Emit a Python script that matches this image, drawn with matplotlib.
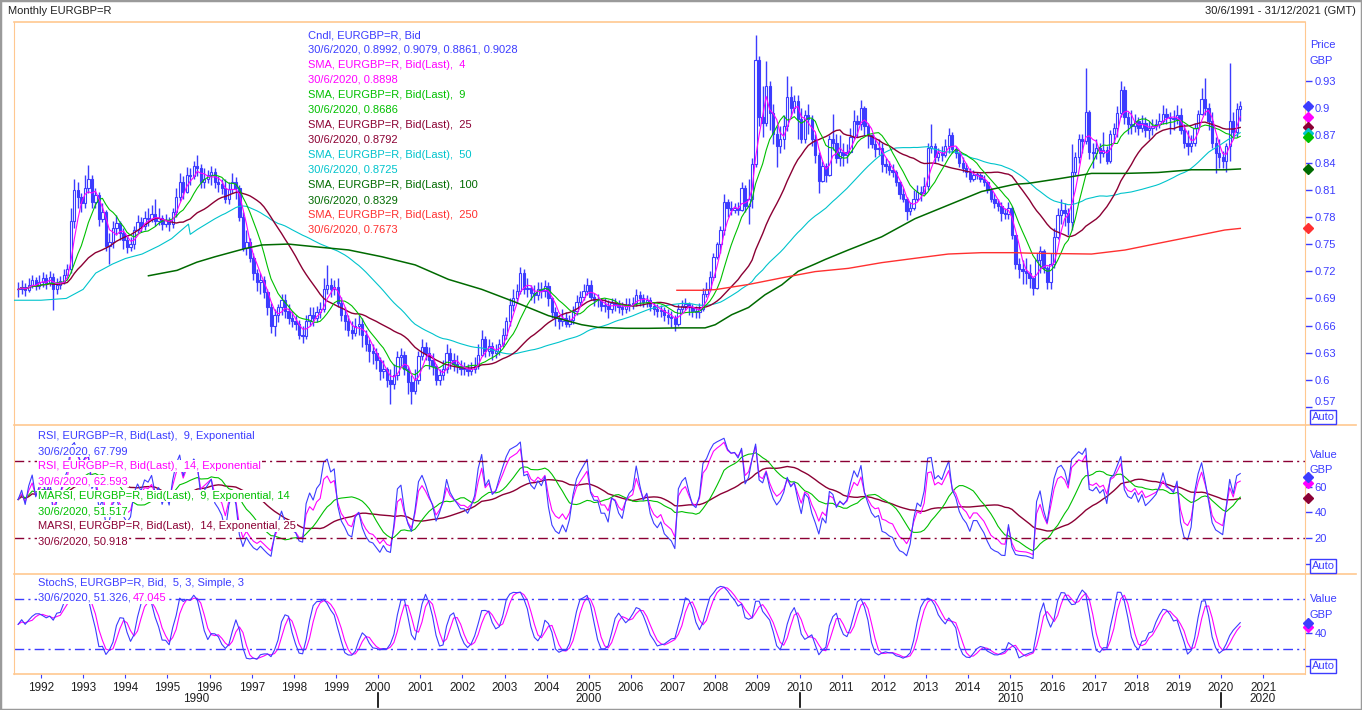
import numpy as np
import pandas as pd
import matplotlib
matplotlib.use("Agg")
import matplotlib.pyplot as plt
import matplotlib.transforms as mtrans
from matplotlib.lines import Line2D
from matplotlib.patches import Rectangle

plt.rcParams['font.family'] = ['Liberation Sans', 'DejaVu Sans']

# monthly EURGBP bid candles, Jun 1991 .. Jun 2020 (one row per year)
close = [
    .700, .703, .699, .705, .710, .704, .708,
    .712, .707, .714, .700, .705, .709, .716, .722, .775, .810, .802, .795,
    .812, .822, .796, .804, .778, .785, .748, .752, .768, .773, .762, .754,
    .747, .750, .766, .774, .770, .779, .778, .783, .776, .779, .772, .777,
    .772, .785, .802, .818, .808, .826, .825, .836, .834, .818, .822, .826,
    .830, .819, .816, .812, .800, .811, .818, .812, .780, .746, .752, .735,
    .718, .708, .710, .697, .680, .660, .672, .680, .688, .676, .668, .665,
    .662, .650, .648, .665, .672, .668, .675, .678, .700, .705, .700, .703,
    .685, .672, .665, .655, .652, .660, .662, .650, .640, .632, .630, .622,
    .610, .612, .600, .596, .605, .625, .628, .612, .598, .588, .600, .627,
    .636, .630, .622, .615, .600, .605, .612, .630, .622, .618, .615, .612,
    .612, .610, .612, .615, .628, .645, .632, .637, .630, .632, .640, .650,
    .665, .683, .690, .698, .718, .700, .702, .696, .694, .700, .698, .704,
    .690, .675, .668, .665, .668, .662, .666, .676, .686, .692, .698, .705,
    .692, .688, .688, .682, .682, .678, .685, .684, .680, .678, .682, .684,
    .685, .694, .690, .686, .688, .682, .678, .676, .677, .672, .670, .668,
    .662, .678, .682, .684, .680, .676, .675, .678, .695, .700, .714, .736,
    .750, .766, .796, .790, .788, .790, .788, .812, .792, .800, .838, .953,
    .890, .884, .925, .895, .872, .858, .866, .880, .912, .900, .908, .888,
    .866, .893, .888, .866, .848, .820, .836, .826, .866, .862, .845, .852,
    .848, .852, .868, .886, .882, .900, .880, .870, .860, .855, .856, .838,
    .836, .832, .830, .818, .805, .800, .786, .790, .800, .808, .806, .814,
    .856, .858, .846, .850, .848, .858, .870, .855, .850, .840, .834, .830,
    .822, .826, .826, .822, .818, .810, .800, .795, .792, .784, .783, .790,
    .760, .728, .722, .720, .718, .712, .702, .732, .742, .724, .708, .728,
    .758, .782, .788, .784, .774, .830, .846, .866, .864, .896, .852, .850,
    .856, .850, .854, .842, .872, .878, .895, .920, .890, .882, .880, .886,
    .878, .884, .876, .878, .880, .882, .886, .894, .890, .889, .888, .892,
    .876, .862, .858, .862, .878, .894, .910, .900, .886, .862, .850, .846,
    .842, .858, .886, .874, .899, .9028,
]
high = [
    .708, .710, .707, .712, .716, .714, .716,
    .719, .717, .720, .718, .712, .715, .722, .728, .790, .822, .818, .806,
    .826, .837, .826, .812, .808, .795, .788, .762, .775, .782, .776, .768,
    .760, .758, .770, .782, .780, .786, .790, .793, .800, .790, .782, .783,
    .780, .790, .812, .828, .825, .835, .834, .842, .848, .838, .834, .832,
    .836, .834, .825, .822, .822, .818, .828, .824, .815, .785, .765, .757,
    .740, .722, .718, .715, .700, .685, .678, .684, .695, .695, .684, .676,
    .672, .666, .660, .672, .680, .680, .682, .686, .712, .727, .712, .710,
    .712, .692, .680, .672, .665, .668, .672, .668, .655, .645, .640, .635,
    .625, .622, .614, .612, .618, .632, .635, .632, .615, .605, .612, .632,
    .645, .642, .636, .630, .618, .612, .622, .640, .635, .630, .628, .622,
    .620, .618, .620, .625, .640, .655, .648, .645, .642, .640, .645, .657,
    .670, .690, .700, .706, .725, .722, .712, .705, .705, .708, .708, .710,
    .708, .692, .680, .672, .678, .675, .672, .682, .694, .698, .706, .712,
    .710, .696, .695, .690, .690, .688, .690, .690, .688, .686, .690, .690,
    .692, .700, .698, .695, .694, .692, .686, .684, .683, .680, .678, .676,
    .672, .684, .688, .690, .686, .684, .682, .685, .702, .708, .720, .740,
    .752, .770, .805, .800, .798, .795, .796, .818, .815, .822, .845, .981,
    .958, .925, .952, .930, .905, .880, .880, .892, .935, .925, .915, .915,
    .900, .898, .905, .892, .872, .852, .842, .840, .870, .894, .872, .870,
    .862, .860, .878, .898, .892, .909, .902, .884, .872, .868, .866, .862,
    .845, .842, .838, .832, .820, .812, .802, .796, .810, .815, .814, .824,
    .862, .883, .862, .856, .858, .866, .878, .874, .858, .852, .846, .840,
    .834, .832, .830, .828, .826, .820, .812, .806, .800, .796, .790, .796,
    .792, .760, .735, .732, .735, .728, .714, .740, .748, .745, .726, .740,
    .768, .790, .800, .795, .790, .860, .852, .872, .872, .944, .898, .862,
    .866, .862, .874, .858, .876, .884, .902, .930, .924, .896, .898, .894,
    .890, .892, .890, .886, .888, .888, .895, .904, .900, .896, .898, .904,
    .900, .882, .876, .870, .884, .898, .922, .933, .906, .896, .868, .866,
    .853, .862, .950, .896, .906, .9079,
]
low = [
    .692, .695, .693, .697, .702, .699, .700,
    .703, .700, .704, .677, .695, .700, .706, .712, .718, .768, .790, .785,
    .790, .806, .790, .790, .770, .774, .742, .728, .746, .760, .755, .745,
    .740, .742, .745, .762, .763, .766, .770, .774, .770, .771, .765, .769,
    .764, .768, .780, .798, .800, .806, .815, .822, .825, .812, .812, .817,
    .815, .812, .808, .805, .795, .794, .806, .800, .776, .742, .738, .730,
    .710, .698, .695, .690, .672, .652, .648, .664, .672, .668, .662, .658,
    .655, .645, .641, .645, .660, .660, .664, .668, .675, .695, .692, .694,
    .680, .665, .655, .648, .645, .648, .650, .636, .632, .620, .618, .612,
    .600, .602, .592, .574, .590, .600, .615, .605, .585, .573, .585, .596,
    .622, .622, .612, .606, .595, .594, .600, .608, .612, .610, .608, .605,
    .605, .604, .606, .608, .612, .626, .625, .626, .622, .624, .628, .636,
    .645, .660, .676, .685, .695, .695, .692, .688, .685, .688, .690, .692,
    .682, .668, .660, .656, .660, .658, .658, .662, .672, .682, .688, .694,
    .688, .682, .680, .676, .675, .668, .674, .676, .674, .672, .674, .676,
    .678, .682, .682, .680, .680, .676, .672, .670, .670, .665, .662, .658,
    .654, .660, .674, .677, .672, .670, .668, .668, .676, .692, .698, .710,
    .733, .740, .760, .780, .782, .784, .782, .786, .785, .772, .790, .835,
    .880, .868, .880, .876, .860, .835, .850, .855, .875, .890, .895, .866,
    .862, .862, .872, .858, .840, .806, .818, .818, .825, .854, .840, .836,
    .836, .840, .850, .866, .868, .876, .870, .856, .856, .846, .848, .830,
    .828, .826, .824, .814, .800, .796, .777, .782, .788, .798, .798, .805,
    .810, .850, .840, .842, .842, .846, .850, .850, .845, .835, .830, .824,
    .818, .820, .822, .818, .814, .806, .796, .790, .786, .776, .778, .778,
    .756, .722, .712, .706, .706, .702, .694, .700, .718, .718, .700, .700,
    .724, .756, .772, .770, .760, .766, .826, .840, .850, .860, .844, .834,
    .844, .840, .846, .838, .840, .862, .868, .890, .882, .872, .872, .874,
    .870, .874, .868, .866, .870, .876, .878, .882, .882, .872, .876, .882,
    .872, .856, .848, .852, .858, .876, .892, .892, .876, .856, .828, .834,
    .834, .829, .842, .866, .868, .8861,
]

sma50_early_t = [1991.36, 1992.00, 1992.60, 1993.00, 1993.30, 1993.70, 1994.00, 1994.40,
                 1994.80, 1995.10, 1995.50]
sma50_early_v = [0.688, 0.688, 0.690, 0.700, 0.718, 0.728, 0.734, 0.739,
                 0.748, 0.756, 0.772]
sma100_t = [1994.55, 1995.23, 1995.70, 1996.13, 1996.84, 1997.24, 1997.87, 1998.51, 1999.30,
            2000.09, 2000.88, 2001.67, 2002.46, 2003.25, 2004.04, 2004.83, 2005.23, 2005.86,
            2006.41, 2007.20, 2007.76, 2008.00, 2008.39, 2008.79, 2009.18, 2009.58, 2009.97,
            2010.37, 2010.61, 2011.16, 2011.95, 2012.74, 2013.53, 2014.32, 2015.11, 2015.43,
            2016.14, 2016.93, 2017.72, 2018.51, 2019.30, 2020.09, 2020.46]
sma100_v = [0.715, 0.721, 0.730, 0.736, 0.745, 0.749, 0.750, 0.747, 0.7435,
            0.736, 0.727, 0.711, 0.700, 0.686, 0.671, 0.661, 0.658, 0.657,
            0.657, 0.6575, 0.6575, 0.661, 0.672, 0.680, 0.694, 0.705, 0.720,
            0.728, 0.733, 0.7435, 0.758, 0.778, 0.793, 0.808, 0.816, 0.817,
            0.822, 0.828, 0.828, 0.829, 0.832, 0.832, 0.8329]
sma250_t = [2007.09, 2007.70, 2008.00, 2008.79, 2009.58, 2010.37, 2011.16, 2011.95, 2012.74,
            2013.53, 2014.32, 2015.11, 2015.43, 2016.14, 2016.93, 2017.72, 2018.51, 2019.30,
            2020.09, 2020.46]
sma250_v = [0.699, 0.699, 0.6997, 0.7054, 0.7127, 0.7196, 0.7232, 0.7295, 0.7343,
            0.739, 0.7405, 0.7405, 0.740, 0.7395, 0.739, 0.7434, 0.7508, 0.7581,
            0.7655, 0.7673]

price_ticks = [0.57, 0.6, 0.63, 0.66, 0.69, 0.72, 0.75, 0.78, 0.81, 0.84, 0.87, 0.9, 0.93]
years = list(range(1992, 2022))
decades = [2000, 2010, 2020]
decade_labels = ['1990', '2000', '2010', '2020']

price_legend = [
    ('Cndl, EURGBP=R, Bid', 'blue'),
    ('30/6/2020, 0.8992, 0.9079, 0.8861, 0.9028', 'blue'),
    ('SMA, EURGBP=R, Bid(Last),  4', 'magenta'),
    ('30/6/2020, 0.8898', 'magenta'),
    ('SMA, EURGBP=R, Bid(Last),  9', 'green'),
    ('30/6/2020, 0.8686', 'green'),
    ('SMA, EURGBP=R, Bid(Last),  25', 'maroon'),
    ('30/6/2020, 0.8792', 'maroon'),
    ('SMA, EURGBP=R, Bid(Last),  50', 'cyan'),
    ('30/6/2020, 0.8725', 'cyan'),
    ('SMA, EURGBP=R, Bid(Last),  100', 'dkgreen'),
    ('30/6/2020, 0.8329', 'dkgreen'),
    ('SMA, EURGBP=R, Bid(Last),  250', 'red'),
    ('30/6/2020, 0.7673', 'red'),
]
rsi_legend = [
    ('RSI, EURGBP=R, Bid(Last),  9, Exponential', 'blue'),
    ('30/6/2020, 67.799', 'blue'),
    ('RSI, EURGBP=R, Bid(Last),  14, Exponential', 'magenta'),
    ('30/6/2020, 62.593', 'magenta'),
    ('MARSI, EURGBP=R, Bid(Last),  9, Exponential, 14', 'green'),
    ('30/6/2020, 51.517', 'green'),
    ('MARSI, EURGBP=R, Bid(Last),  14, Exponential, 25', 'maroon'),
    ('30/6/2020, 50.918', 'maroon'),
]

COL = {
    'blue': '#3c3cff', 'magenta': '#ff00ff', 'green': '#00c000', 'maroon': '#8b0034',
    'cyan': '#00c4cc', 'dkgreen': '#006a00', 'red': '#ff3030',
}
ORANGE = '#ffc890'
W, H = 1362, 710
L, R = 14, 1305
FS = 8


def rsi(c, n):
    # exponential RSI, seeded neutral because the real history starts before the window
    d = np.diff(c, prepend=c[0])
    a = 2.0 / (n + 1)
    up = dn = np.mean(np.abs(d[1:13])) / 2
    out = []
    for x in d:
        up += a * (max(x, 0) - up)
        dn += a * (max(-x, 0) - dn)
        out.append(100 * up / (up + dn))
    return pd.Series(out)


def panel(top, bottom):
    ax = fig.add_axes([L / W, 1 - bottom / H, (R - L) / W, (bottom - top) / H])
    for s in ax.spines.values():
        s.set_visible(False)
    ax.spines['left'].set_visible(True)
    ax.spines['right'].set_visible(True)
    ax.spines['left'].set_color(ORANGE)
    ax.spines['right'].set_color(ORANGE)
    ax.set_xlim(1991.36, 2021.995)
    ax.tick_params(axis='x', bottom=False, labelbottom=False)
    ax.yaxis.tick_right()
    ax.tick_params(axis='y', length=5, width=1, color=COL['blue'], labelcolor=COL['blue'],
                   labelsize=FS, pad=2, direction='out')
    return ax


def side_mark(ax, val, col):
    tr = mtrans.blended_transform_factory(ax.transAxes, ax.transData)
    ax.plot([1.0025], [val], marker='D', ms=5, color=col, transform=tr, clip_on=False, zorder=10)


def ftext(x, y, s, col, **kw):
    return fig.text(x / W, 1 - y / H, s, color=col, fontsize=FS, va='center', **kw)


fig = plt.figure(figsize=(W / 100, H / 100), dpi=100)
fig.patch.set_facecolor('white')

c = pd.Series(close)
cv = c.values
hi = np.array(high)
lo = np.array(low)
o = np.r_[close[0], close[:-1]]
months = pd.date_range('1991-06-01', periods=len(close), freq='MS')
t = np.asarray(months.year + (months.month - 0.5) / 12)

# ---- price panel
ax = panel(22, 425)
ax.set_ylim(0.5503, 0.9951)
ax.vlines(t, lo, hi, color=COL['blue'], lw=1, zorder=2)
body_lo = np.minimum(o, cv)
body_h = np.maximum(np.abs(cv - o), 0.0008)
ax.bar(t, body_h, bottom=body_lo, width=0.055,
       color=np.where(cv >= o, 'white', COL['blue']), edgecolor=COL['blue'], lw=0.8, zorder=3)
sma50 = c.rolling(50).mean()
ok = sma50.notna().values
ax.plot(np.r_[sma50_early_t, t[ok]], np.r_[sma50_early_v, sma50[ok]], color=COL['cyan'],
        lw=0.8, zorder=4)
for n, key in [(25, 'maroon'), (9, 'green'), (4, 'magenta')]:
    ax.plot(t, c.rolling(n, min_periods=1).mean(), color=COL[key],
            lw=1.0 if n == 25 else 0.8, zorder=4)
ax.plot(sma100_t, sma100_v, color=COL['dkgreen'], lw=1.1, zorder=4)
ax.plot(sma250_t, sma250_v, color=COL['red'], lw=1.0, zorder=4)
ax.set_yticks(price_ticks)
ax.set_yticklabels(['%g' % v for v in price_ticks])
ax.get_yticklabels()[0].set_va('bottom')
for val, key in [(close[-1], 'blue'), (0.8898, 'magenta'), (0.8792, 'maroon'), (0.8725, 'cyan'),
                 (0.8686, 'green'), (sma100_v[-1], 'dkgreen'), (sma250_v[-1], 'red')]:
    side_mark(ax, val, COL[key])
for i, (s, key) in enumerate(price_legend):
    ftext(308, 35 + 15 * i, s, COL[key])
ftext(1310, 45, 'Price', COL['blue'])
ftext(1310, 61, 'GBP', COL['blue'])

# ---- RSI panel
ax2 = panel(425, 574)
ax2.set_ylim(-8, 108)
rsi9 = rsi(cv, 9)
rsi14 = rsi(cv, 14)
ax2.plot(t, rsi14.rolling(25, min_periods=1).mean(), color=COL['maroon'], lw=1.0)
ax2.plot(t, rsi9.rolling(14, min_periods=1).mean(), color=COL['green'], lw=0.8)
ax2.plot(t, rsi14, color=COL['magenta'], lw=0.8)
ax2.plot(t, rsi9, color=COL['blue'], lw=0.8)
for lvl in (80, 20):
    ax2.axhline(lvl, color=COL['maroon'], lw=1, ls=(0, (7, 3, 1.5, 3)))
ax2.set_yticks([0, 20, 40, 60])
ax2.set_yticklabels(['', '20', '40', '60'])
side_mark(ax2, 50.918, COL['maroon'])
side_mark(ax2, 62.593, COL['magenta'])
side_mark(ax2, 67.799, COL['blue'])
for i, (s, key) in enumerate(rsi_legend):
    ftext(38, 436 + 15 * i, s, COL[key], bbox=dict(fc='white', ec='none', pad=0.6))
ftext(1310, 455, 'Value', COL['blue'])
ftext(1310, 470, 'GBP', COL['blue'])

# ---- stochastic panel
ax3 = panel(574, 674)
ax3.set_ylim(-9.6, 110.4)
hh = pd.Series(hi).rolling(5, min_periods=1).max()
ll = pd.Series(lo).rolling(5, min_periods=1).min()
k = (100 * (c - ll) / (hh - ll)).rolling(3, min_periods=1).mean()
d = k.rolling(3, min_periods=1).mean()
ax3.plot(t, d, color=COL['magenta'], lw=0.8)
ax3.plot(t, k, color=COL['blue'], lw=0.8)
for lvl in (80, 20):
    ax3.axhline(lvl, color=COL['blue'], lw=1, ls=(0, (7, 3, 1.5, 3)))
ax3.set_yticks([0, 40])
ax3.set_yticklabels(['', '40'])
side_mark(ax3, 47.045, COL['magenta'])
side_mark(ax3, 51.326, COL['blue'])
ftext(38, 583, 'StochS, EURGBP=R, Bid,  5, 3, Simple, 3', COL['blue'],
      bbox=dict(fc='white', ec='none', pad=0.6))
ftext(38, 598, '30/6/2020, 51.326, ', COL['blue'], bbox=dict(fc='white', ec='none', pad=0.6))
ftext(133, 598, '47.045', COL['magenta'], bbox=dict(fc='white', ec='none', pad=0.6))
ftext(1310, 599, 'Value', COL['blue'])
ftext(1310, 615, 'GBP', COL['blue'])

# time axis
ax3.set_xticks(years)
ax3.set_xticklabels([str(y) for y in years])
ax3.tick_params(axis='x', bottom=True, labelbottom=True, length=3, color=COL['blue'],
                labelcolor='#202020', labelsize=FS + 0.5, pad=3)
trx = mtrans.blended_transform_factory(ax3.transData, ax3.transAxes)
for dx in decades:
    ax3.plot([dx, dx], [-0.19, -0.33], color='black', lw=1.2, transform=trx, clip_on=False)
lims = [1991.36] + decades + [2021.995]
for i, lab in enumerate(decade_labels):
    ax3.text((lims[i] + lims[i + 1]) / 2, -0.25, lab, transform=trx, ha='center', va='center',
             fontsize=FS + 0.5, color='#202020')

# auto boxes, frame lines, header
for yy in (417, 566, 666):
    ftext(1323, yy, 'Auto', COL['blue'], ha='center',
          bbox=dict(boxstyle='square,pad=0.15', fc='white', ec=COL['blue'], lw=1))
for yy, x1 in [(22, R), (425, 1356), (574, 1356), (674, R)]:
    fig.add_artist(Line2D([L / W, x1 / W], [1 - yy / H, 1 - yy / H], color=ORANGE, lw=1.2))
fig.add_artist(Rectangle((0, 0), 1, 1, transform=fig.transFigure, fill=False,
                         ec='#9a9a9a', lw=2.5))
ftext(8, 11, 'Monthly EURGBP=R', '#202020')
ftext(1356, 11, '30/6/1991 - 31/12/2021 (GMT)', '#202020', ha='right')

fig.savefig('out.png', dpi=100)
